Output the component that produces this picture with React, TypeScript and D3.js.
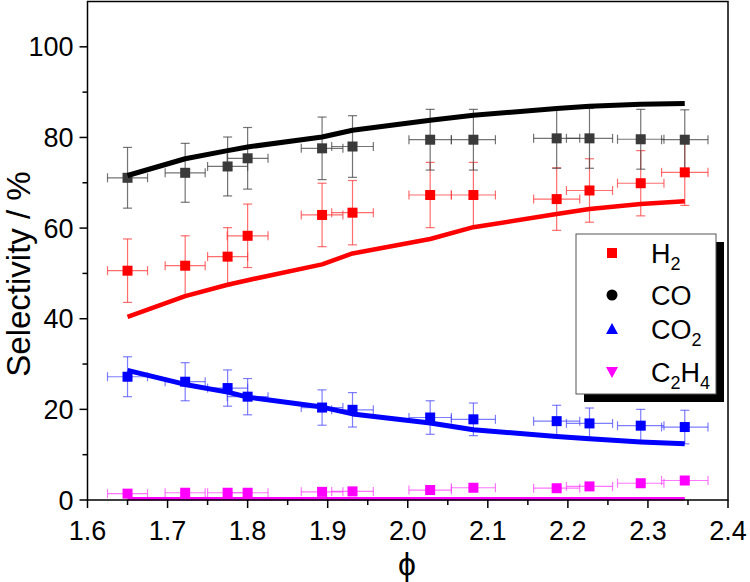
import React from "react";
import * as d3 from "d3";

const PHI = [1.65, 1.722, 1.775, 1.8, 1.893, 1.931, 2.028, 2.082, 2.186, 2.227, 2.291, 2.346];
const PHI_ERR = [0.025, 0.025, 0.025, 0.0255, 0.026, 0.026, 0.0265, 0.0275, 0.0288, 0.0288, 0.029, 0.029];

const H2 = [50.6, 51.7, 53.7, 58.3, 62.9, 63.4, 67.3, 67.3, 66.4, 68.3, 69.9, 72.3];
const H2_ERR = [7.0, 6.6, 6.4, 7.0, 7.0, 7.1, 7.2, 7.2, 6.9, 7.0, 7.2, 7.3];
const CO = [71.1, 72.2, 73.6, 75.4, 77.6, 78.0, 79.5, 79.5, 79.8, 79.8, 79.6, 79.5];
const CO_ERR = [6.7, 6.5, 6.5, 6.8, 6.9, 6.8, 6.7, 6.7, 6.6, 6.6, 6.6, 6.6];
const CO2 = [27.2, 26.1, 24.7, 22.8, 20.4, 19.9, 18.2, 17.8, 17.4, 16.9, 16.4, 16.1];
const CO2_ERR = [4.4, 4.2, 4.0, 4.0, 3.9, 3.8, 3.7, 3.6, 3.5, 3.4, 3.6, 3.7];
const C2H4 = [1.4, 1.6, 1.6, 1.6, 1.8, 1.9, 2.2, 2.7, 2.6, 3.0, 3.7, 4.3];
const C2H4_ERR = [0.3, 0.3, 0.3, 0.3, 0.3, 0.3, 0.3, 0.3, 0.3, 0.3, 0.3, 0.3];

const MODEL_H2 = [40.4, 45.0, 47.5, 48.5, 52.0, 54.4, 57.6, 60.2, 63.1, 64.2, 65.3, 65.9];
const MODEL_CO = [71.6, 75.3, 77.1, 77.9, 80.1, 81.6, 83.8, 84.9, 86.4, 86.9, 87.3, 87.5];
const MODEL_CO2 = [28.6, 25.5, 23.8, 22.7, 20.5, 19.0, 17.0, 15.5, 14.0, 13.5, 12.8, 12.4];
const MODEL_C2H4 = [0.3, 0.3, 0.3, 0.3, 0.3, 0.3, 0.3, 0.3, 0.3, 0.3, 0.3, 0.3];

const X_TICKS = [1.6, 1.7, 1.8, 1.9, 2.0, 2.1, 2.2, 2.3, 2.4];
const Y_TICKS = [0, 20, 40, 60, 80, 100];

const FONT = "'Liberation Sans', Arial, sans-serif";

export default function App() {
  const W = 750, H = 582;
  const left = 87.5, right = 728, top = 1.5, bottom = 500;
  const x = d3.scaleLinear().domain([1.6, 2.4]).range([left, right]);
  const y = d3.scaleLinear().domain([0, 110]).range([bottom, top]);

  const series = [
    { vals: H2, err: H2_ERR, model: MODEL_H2, color: "#ff0000", marker: "#ff0000", errColor: "rgba(255,60,60,0.75)", lw: 4.5 },
    { vals: CO, err: CO_ERR, model: MODEL_CO, color: "#000000", marker: "#3a3a3a", errColor: "rgba(70,70,70,0.75)", lw: 5 },
    { vals: CO2, err: CO2_ERR, model: MODEL_CO2, color: "#0000ff", marker: "#0000ff", errColor: "rgba(70,70,255,0.7)", lw: 5 },
    { vals: C2H4, err: C2H4_ERR, model: MODEL_C2H4, color: "#ff00ff", marker: "#ff00ff", errColor: "rgba(255,60,255,0.7)", lw: 3.5 },
  ];

  const line = d3.line<number>().x((_, i) => x(PHI[i])).y((d) => y(d));
  const ms = 10;
  const cap = 4.5;

  const xMinor = d3.range(1.65, 2.4, 0.1);
  const yMinor = [10, 30, 50, 70, 90];

  const legendRows = [
    { label: ["H", "2"], color: "#ff0000", shape: "square", cy: 253 },
    { label: ["CO"], color: "#000000", shape: "circle", cy: 295 },
    { label: ["CO", "2"], color: "#0000ff", shape: "up", cy: 329 },
    { label: ["C", "2", "H", "4"], color: "#ff00ff", shape: "down", cy: 372 },
  ];
  const lx = 576, ly = 234, lw = 140, lh = 160;

  return (
    <svg width={W} height={H} style={{ position: "absolute", left: 0, top: 0, background: "#fff" }} fontFamily={FONT}>
      <rect x={0} y={0} width={W} height={H} fill="#fff" />
      {series.map((s, si) => (
        <g key={"e" + si} stroke={s.errColor} strokeWidth={1.2} fill="none">
          {s.vals.map((v, i) => {
            const cx = x(PHI[i]), cy = y(v);
            const x0 = x(PHI[i] - PHI_ERR[i]), x1 = x(PHI[i] + PHI_ERR[i]);
            const y0 = y(v - s.err[i]), y1 = y(v + s.err[i]);
            return (
              <g key={i}>
                <line x1={x0} x2={x1} y1={cy} y2={cy} />
                <line x1={x0} x2={x0} y1={cy - cap} y2={cy + cap} />
                <line x1={x1} x2={x1} y1={cy - cap} y2={cy + cap} />
                <line x1={cx} x2={cx} y1={y0} y2={y1} />
                <line x1={cx - cap} x2={cx + cap} y1={y0} y2={y0} />
                <line x1={cx - cap} x2={cx + cap} y1={y1} y2={y1} />
              </g>
            );
          })}
        </g>
      ))}
      {series.map((s, si) => (
        <g key={"m" + si} fill={s.marker}>
          {s.vals.map((v, i) => (
            <rect key={i} x={x(PHI[i]) - ms / 2} y={y(v) - ms / 2} width={ms} height={ms} />
          ))}
        </g>
      ))}
      {series.map((s, si) => (
        <path key={"l" + si} d={line(s.model) || ""} fill="none" stroke={s.color} strokeWidth={s.lw} strokeLinejoin="round" strokeLinecap="butt" />
      ))}
      <rect x={left} y={top} width={right - left} height={bottom - top} fill="none" stroke="#000" strokeWidth={1.5} />
      {X_TICKS.map((t) => (
        <g key={"xt" + t}>
          <line x1={x(t)} x2={x(t)} y1={bottom} y2={bottom + 8} stroke="#000" strokeWidth={1.5} />
          <text x={x(t)} y={bottom + 40} textAnchor="middle" fontSize={27}>{t.toFixed(1)}</text>
        </g>
      ))}
      {xMinor.map((t) => (
        <line key={"xm" + t} x1={x(t)} x2={x(t)} y1={bottom} y2={bottom + 5} stroke="#000" strokeWidth={1.5} />
      ))}
      {Y_TICKS.map((t) => (
        <g key={"yt" + t}>
          <line x1={left - 8} x2={left} y1={y(t)} y2={y(t)} stroke="#000" strokeWidth={1.5} />
          <text x={left - 14} y={y(t) + 9.5} textAnchor="end" fontSize={27}>{t}</text>
        </g>
      ))}
      {yMinor.map((t) => (
        <line key={"ym" + t} x1={left - 5} x2={left} y1={y(t)} y2={y(t)} stroke="#000" strokeWidth={1.5} />
      ))}
      <text transform={`translate(30,274) rotate(-90)`} textAnchor="middle" fontSize={33}>Selectivity / %</text>
      <text x={407} y={575} textAnchor="middle" fontSize={32}>{"\u03D5"}</text>
      <rect x={lx + 8} y={ly + 8} width={lw} height={lh} fill="#000" />
      <rect x={lx} y={ly} width={lw} height={lh} fill="#fff" stroke="#555" strokeWidth={1} />
      {legendRows.map((r, i) => {
        const mx = 612, my = r.cy;
        let shape;
        if (r.shape === "square") shape = <rect x={mx - 5} y={my - 5} width={10} height={10} fill={r.color} />;
        else if (r.shape === "circle") shape = <circle cx={mx} cy={my} r={5.5} fill={r.color} />;
        else if (r.shape === "up") shape = <path d={`M${mx},${my - 6}L${mx + 6},${my + 5}L${mx - 6},${my + 5}Z`} fill={r.color} />;
        else shape = <path d={`M${mx},${my + 6}L${mx + 6},${my - 5}L${mx - 6},${my - 5}Z`} fill={r.color} />;
        return (
          <g key={"lg" + i}>
            {shape}
            <text x={651} y={my + 10} fontSize={27}>
              {r.label.map((p, j) =>
                j % 2 === 1 ? (
                  <tspan key={j} fontSize={18} dy={7}>{p}</tspan>
                ) : (
                  <tspan key={j} fontSize={27} dy={j === 0 ? 0 : -7}>{p}</tspan>
                )
              )}
            </text>
          </g>
        );
      })}
    </svg>
  );
}
